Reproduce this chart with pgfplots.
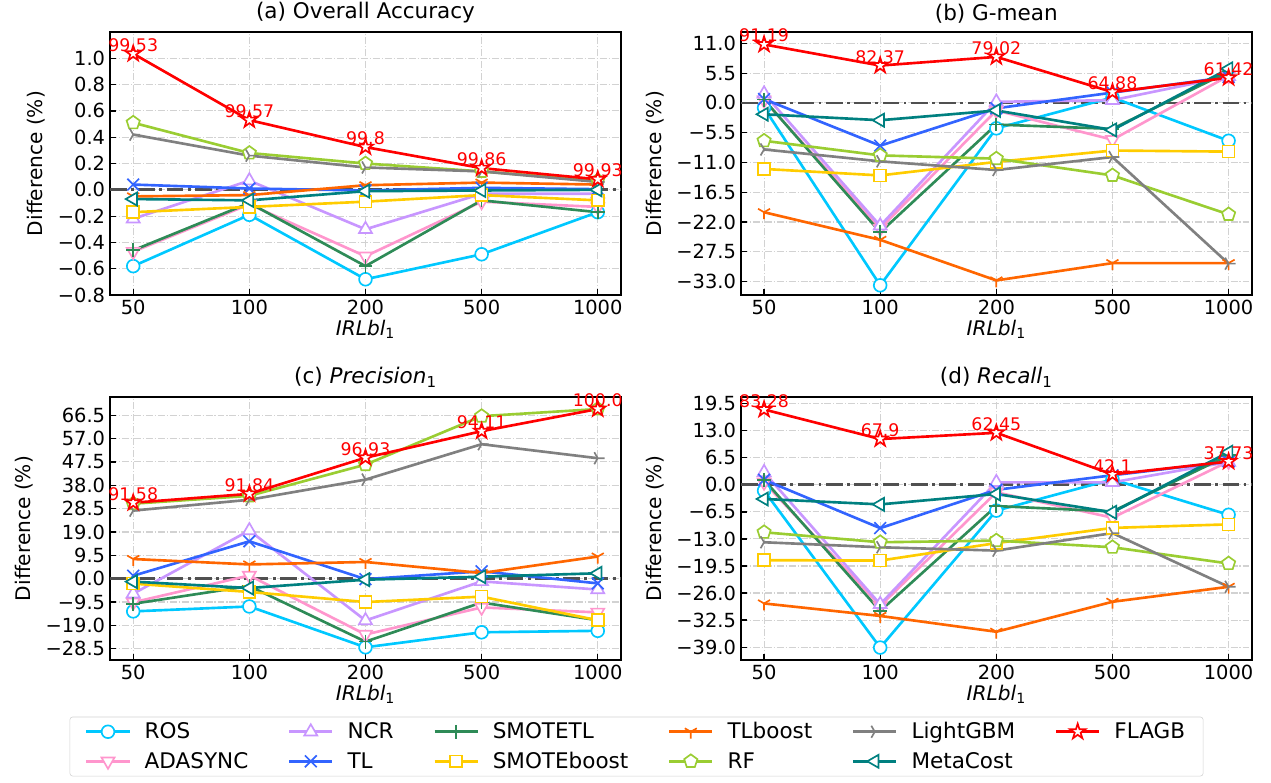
\documentclass[border=0pt]{standalone}
\usepackage{fontspec}
\setmainfont{DejaVu Sans}
\usepackage{pgfplots}
\usepackage{pgfplotstable}
\pgfplotsset{compat=1.18}
\usetikzlibrary{plotmarks}

\definecolor{cROS}{RGB}{0,200,255}
\definecolor{cADA}{RGB}{255,150,205}
\definecolor{cNCR}{RGB}{200,150,255}
\definecolor{cTL}{RGB}{50,100,255}
\definecolor{cSTL}{RGB}{46,139,87}
\definecolor{cSB}{RGB}{255,204,0}
\definecolor{cTLB}{RGB}{255,102,0}
\definecolor{cRF}{RGB}{154,205,50}
\definecolor{cLGB}{RGB}{128,128,128}
\definecolor{cMC}{RGB}{0,128,128}
\definecolor{cFL}{RGB}{255,0,0}
\definecolor{cZero}{RGB}{80,80,80}
\definecolor{cGrid}{RGB}{210,210,210}

\pgfdeclareplotmark{fivestar}{%
  \pgfpathmoveto{\pgfpointpolar{90}{\pgfplotmarksize}}%
  \pgfpathlineto{\pgfpointpolar{126}{0.382\pgfplotmarksize}}%
  \pgfpathlineto{\pgfpointpolar{162}{\pgfplotmarksize}}%
  \pgfpathlineto{\pgfpointpolar{198}{0.382\pgfplotmarksize}}%
  \pgfpathlineto{\pgfpointpolar{234}{\pgfplotmarksize}}%
  \pgfpathlineto{\pgfpointpolar{270}{0.382\pgfplotmarksize}}%
  \pgfpathlineto{\pgfpointpolar{306}{\pgfplotmarksize}}%
  \pgfpathlineto{\pgfpointpolar{342}{0.382\pgfplotmarksize}}%
  \pgfpathlineto{\pgfpointpolar{18}{\pgfplotmarksize}}%
  \pgfpathlineto{\pgfpointpolar{54}{0.382\pgfplotmarksize}}%
  \pgfpathclose\pgfusepathqfillstroke}
\pgfdeclareplotmark{tridown}{%
  \pgfpathmoveto{\pgfqpoint{0pt}{0pt}}\pgfpathlineto{\pgfpointpolar{270}{\pgfplotmarksize}}%
  \pgfpathmoveto{\pgfqpoint{0pt}{0pt}}\pgfpathlineto{\pgfpointpolar{30}{\pgfplotmarksize}}%
  \pgfpathmoveto{\pgfqpoint{0pt}{0pt}}\pgfpathlineto{\pgfpointpolar{150}{\pgfplotmarksize}}%
  \pgfusepathqstroke}
\pgfdeclareplotmark{triright}{%
  \pgfpathmoveto{\pgfqpoint{0pt}{0pt}}\pgfpathlineto{\pgfpointpolar{0}{\pgfplotmarksize}}%
  \pgfpathmoveto{\pgfqpoint{0pt}{0pt}}\pgfpathlineto{\pgfpointpolar{120}{\pgfplotmarksize}}%
  \pgfpathmoveto{\pgfqpoint{0pt}{0pt}}\pgfpathlineto{\pgfpointpolar{240}{\pgfplotmarksize}}%
  \pgfusepathqstroke}

\pgfplotsset{
  sROS/.style={color=cROS, line width=1.9pt, mark=*, mark size=4.6pt, mark options={fill=white, line width=1.2pt}},
  sADA/.style={color=cADA, line width=1.9pt, mark=triangle*, mark size=5.4pt, mark options={fill=white, line width=1.2pt, rotate=180}},
  sNCR/.style={color=cNCR, line width=1.9pt, mark=triangle*, mark size=5.4pt, mark options={fill=white, line width=1.2pt}},
  sTL/.style={color=cTL, line width=1.9pt, mark=x, mark size=6pt, mark options={line width=1.2pt}},
  sSTL/.style={color=cSTL, line width=1.9pt, mark=+, mark size=5pt, mark options={line width=1.2pt}},
  sSB/.style={color=cSB, line width=1.9pt, mark=square*, mark size=4.3pt, mark options={fill=white, line width=1.2pt}},
  sTLB/.style={color=cTLB, line width=1.9pt, mark=tridown, mark size=5pt, mark options={line width=1.2pt}},
  sRF/.style={color=cRF, line width=1.9pt, mark=pentagon*, mark size=5pt, mark options={fill=white, line width=1.2pt}},
  sLGB/.style={color=cLGB, line width=1.9pt, mark=triright, mark size=5pt, mark options={line width=1.2pt}},
  sMC/.style={color=cMC, line width=1.9pt, mark=triangle*, mark size=5.4pt, mark options={fill=white, line width=1.2pt, rotate=90}},
  sFL/.style={color=cFL, line width=1.9pt, mark=fivestar, mark size=5.8pt, mark options={fill=white, line width=1.2pt}},
  sZero/.style={color=cZero, line width=2pt, dash pattern=on 12pt off 3.2pt on 2pt off 3.2pt, mark=none, forget plot},
  base/.style={
    width=367.9pt, height=189.4pt, scale only axis,
    xmin=-0.2, xmax=4.2, xtick={0,1,2,3,4}, xticklabels={50,100,200,500,1000},
    tick align=inside, xtick pos=bottom, ytick pos=left,
    major tick length=4.5pt, tick style={black, line width=0.9pt},
    axis line style={black, line width=1.1pt},
    grid=major, grid style={cGrid, line width=0.8pt, dash pattern=on 5pt off 1.4pt on 0.8pt off 1.4pt},
    clip=false,
    tick label style={font=\fontsize{14}{16}\selectfont},
    label style={font=\fontsize{14.5}{16}\selectfont},
    title style={font=\fontsize{15.5}{17}\selectfont, yshift=-3pt},
    ylabel={Difference (\%)},
    xlabel={\textit{IRLbl}\textsubscript{1}},
    xlabel style={yshift=3pt},
    ylabel style={yshift=2pt},
    every node near coord/.append style={font=\fontsize{12.5}{13}\selectfont, text=red, anchor=south, inner sep=0pt, yshift=1pt},
  },
}

\pgfplotstableread{
x ROS ADA NCR TL STL SB TLB RF LGB MC FL lab
0 -0.58 -0.47 -0.22 0.04 -0.46 -0.17 -0.05 0.51 0.42 -0.07 1.035 99.53
1 -0.19 -0.11 0.07 0.01 -0.10 -0.13 -0.04 0.28 0.26 -0.08 0.53 99.57
2 -0.68 -0.505 -0.30 -0.005 -0.58 -0.09 0.035 0.20 0.17 -0.01 0.325 99.8
3 -0.49 -0.09 -0.03 0.015 -0.08 -0.04 0.055 0.14 0.14 -0.005 0.165 99.86
4 -0.17 -0.13 -0.03 0.005 -0.17 -0.08 0.04 0.07 0.06 0.0 0.08 99.93
}\tA

\pgfplotstableread{
x ROS ADA NCR TL STL SB TLB RF LGB MC FL lab
0 -0.9 0.5 1.7 0.7 0.6 -12.2 -20.2 -7.0 -8.6 -2.1 10.8 91.19
1 -33.7 -23.2 -22.7 -7.9 -23.9 -13.4 -25.3 -9.7 -10.8 -3.2 6.9 82.37
2 -4.7 -1.4 0.2 -1.0 -4.0 -10.9 -32.8 -10.3 -12.4 -1.4 8.5 79.02
3 1.0 -6.8 0.5 1.9 -4.8 -8.8 -29.6 -13.4 -10.0 -5.0 2.0 64.88
4 -7.0 5.0 4.9 4.8 5.8 -9.0 -29.6 -20.6 -29.7 6.3 4.65 61.42
}\tB

\pgfplotstableread{
x ROS ADA NCR TL STL SB TLB RF LGB MC FL lab
0 -13.3 -9.6 -6.1 1.2 -10.2 -2.0 8.0 30.5 27.7 -1.2 30.9 91.58
1 -11.3 1.3 19.6 15.2 -3.0 -5.4 5.8 33.7 32.1 -3.8 34.5 91.84
2 -27.9 -22.7 -17.0 -0.2 -25.6 -9.5 6.8 46.4 40.3 -0.4 49.2 96.93
3 -21.8 -11.7 -1.1 3.0 -9.7 -7.3 2.3 66.1 54.7 0.8 60.0 94.11
4 -21.2 -13.7 -4.4 -1.9 -16.9 -16.9 9.0 69.0 49.0 2.2 69.0 100.0
}\tC

\pgfplotstableread{
x ROS ADA NCR TL STL SB TLB RF LGB MC FL lab
0 -1.4 0.6 3.0 1.2 1.2 -18.1 -28.5 -11.4 -13.8 -3.4 18.1 83.28
1 -39.1 -29.1 -28.7 -10.4 -30.3 -18.2 -31.5 -13.8 -15.0 -4.7 11.0 67.9
2 -6.2 -1.8 0.6 -1.2 -5.1 -14.0 -35.3 -13.4 -15.8 -2.2 12.5 62.45
3 1.3 -7.9 0.6 2.3 -6.4 -10.35 -28.1 -15.0 -11.6 -6.6 2.5 42.1
4 -7.2 5.6 5.5 5.6 7.1 -9.5 -24.5 -18.9 -24.5 7.85 5.6 37.73
}\tD

\newcommand{\allseries}[1]{%
  \addplot[sZero] coordinates {(-0.2,0) (4.2,0)};
  \addplot[sROS] table[x=x,y=ROS] {#1};
  \addplot[sADA] table[x=x,y=ADA] {#1};
  \addplot[sNCR] table[x=x,y=NCR] {#1};
  \addplot[sTL] table[x=x,y=TL] {#1};
  \addplot[sSTL] table[x=x,y=STL] {#1};
  \addplot[sSB] table[x=x,y=SB] {#1};
  \addplot[sTLB] table[x=x,y=TLB] {#1};
  \addplot[sRF] table[x=x,y=RF] {#1};
  \addplot[sLGB] table[x=x,y=LGB] {#1};
  \addplot[sMC] table[x=x,y=MC] {#1};
  \addplot[sFL, nodes near coords, point meta=explicit symbolic] table[x=x,y=FL,meta=lab] {#1};
}

\begin{document}
\begin{tikzpicture}
\useasboundingbox (0,0) rectangle (915.12pt,-563.76pt);

\begin{axis}[base, at={(79.2pt,-23.04pt)}, anchor=north west,
  title={(a) Overall Accuracy},
  ymin=-0.8, ymax=1.2,
  ytick={-0.8,-0.6,-0.4,-0.2,0,0.2,0.4,0.6,0.8,1.0},
  yticklabels={−0.8,−0.6,−0.4,−0.2,0.0,0.2,0.4,0.6,0.8,1.0}]
\allseries{\tA}
\end{axis}

\begin{axis}[base, at={(533.4pt,-23.04pt)}, anchor=north west,
  title={(b) G-mean},
  ymin=-35.5, ymax=13.1,
  ytick={-33,-27.5,-22,-16.5,-11,-5.5,0,5.5,11},
  yticklabels={−33.0,−27.5,−22.0,−16.5,−11.0,−5.5,0.0,5.5,11.0}]
\allseries{\tB}
\end{axis}

\begin{axis}[base, at={(79.2pt,-285.84pt)}, anchor=north west,
  title={(c) \textit{Precision}\textsubscript{1}},
  ymin=-33.1, ymax=73.9,
  ytick={-28.5,-19,-9.5,0,9.5,19,28.5,38,47.5,57,66.5},
  yticklabels={−28.5,−19.0,−9.5,0.0,9.5,19.0,28.5,38.0,47.5,57.0,66.5}]
\allseries{\tC}
\end{axis}

\begin{axis}[base, at={(533.4pt,-285.84pt)}, anchor=north west,
  title={(d) \textit{Recall}\textsubscript{1}},
  ymin=-42.1, ymax=21.1,
  ytick={-39,-32.5,-26,-19.5,-13,-6.5,0,6.5,13,19.5},
  yticklabels={−39.0,−32.5,−26.0,−19.5,−13.0,−6.5,0.0,6.5,13.0,19.5}]
\allseries{\tD}
\end{axis}

\begin{axis}[at={(458.3pt,-537.5pt)}, anchor=center, hide axis,
  width=10pt, height=10pt, scale only axis,
  xmin=0, xmax=1, ymin=0, ymax=1,
  legend columns=6,
  legend cell align=left,
  legend image code/.code={\draw[mark repeat=2, mark phase=2] plot coordinates {(0pt,0pt) (15.5pt,0pt) (31pt,0pt)};},
  legend style={at={(0.5,0.5)}, anchor=center, draw=cGrid, rounded corners=2pt,
    font=\fontsize{15.5}{18}\selectfont, inner xsep=11pt, inner ysep=2pt,
    /tikz/every even column/.append style={column sep=26.5pt},
    /tikz/every odd column/.append style={column sep=8pt},
    row sep=4pt}]
\addlegendimage{sROS}\addlegendentry{ROS}
\addlegendimage{sNCR}\addlegendentry{NCR}
\addlegendimage{sSTL}\addlegendentry{SMOTETL}
\addlegendimage{sTLB}\addlegendentry{TLboost}
\addlegendimage{sLGB}\addlegendentry{LightGBM}
\addlegendimage{sFL}\addlegendentry{FLAGB}
\addlegendimage{sADA}\addlegendentry{ADASYNC}
\addlegendimage{sTL}\addlegendentry{TL}
\addlegendimage{sSB}\addlegendentry{SMOTEboost}
\addlegendimage{sRF}\addlegendentry{RF}
\addlegendimage{sMC}\addlegendentry{MetaCost}
\end{axis}
\end{tikzpicture}
\end{document}
